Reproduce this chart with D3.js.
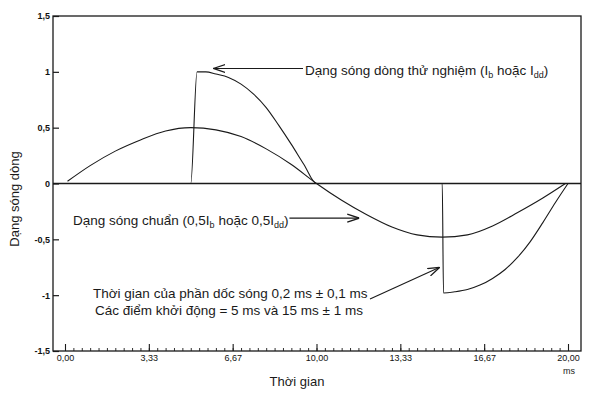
<!DOCTYPE html>
<html>
<head>
<meta charset="utf-8">
<script src="https://cdn.jsdelivr.net/npm/d3@7"></script>
<style>
  body { margin: 0; background: #fff; }
  svg { font-family: "Liberation Sans", Arial, sans-serif; }
  .tick text { fill: #111; }
</style>
</head>
<body>
<svg id="chart" width="600" height="396"></svg>
<script>
// values
const refTime = [0.1, 1, 2, 3, 4, 5, 6, 7, 8, 9, 10, 11, 12, 13, 14, 15, 16, 17, 18, 19, 19.9];
const refValues = [0.02, 0.16, 0.29, 0.39, 0.47, 0.5, 0.48, 0.42, 0.31, 0.17, 0, -0.15, -0.28, -0.39, -0.46, -0.48, -0.46, -0.38, -0.26, -0.13, 0];

const testTime = [0, 5, 5.25, 5.6, 6, 6.5, 7, 7.5, 8, 8.5, 9, 9.5, 10, 15, 15.05, 15.5, 16, 16.5, 17, 17.5, 18, 18.5, 19, 19.5, 20];
const testValues = [0, 0, 1.0, 1.0, 0.98, 0.95, 0.89, 0.8, 0.68, 0.52, 0.35, 0.17, 0, 0, -0.98, -0.97, -0.95, -0.91, -0.85, -0.77, -0.66, -0.52, -0.35, -0.17, 0];

const xTicks = [0, 10 / 3, 20 / 3, 10, 40 / 3, 50 / 3, 20];
const xTickLabels = ["0,00", "3,33", "6,67", "10,00", "13,33", "16,67", "20,00"];
const yTicks = [1.5, 1, 0.5, 0, -0.5, -1, -1.5];
const yTickLabels = ["1,5", "1", "0,5", "0", "-0,5", "-1", "-1,5"];

// ========== MAIN CODE ==========

const frame = { left: 53, right: 581, top: 16, bottom: 351 };

const x = d3.scaleLinear().domain([0, 20]).range([65, 568]);
const y = d3.scaleLinear().domain([-1.5, 1.5]).range([frame.bottom, frame.top]);

const svg = d3.select("#chart");
const ink = "#1a1a1a";
const fontSize = "13.5px";

// marker for open arrow heads
svg.append("defs").append("marker")
    .attr("id", "arrow")
    .attr("viewBox", "0 0 12 10")
    .attr("refX", 12).attr("refY", 5)
    .attr("markerWidth", 12).attr("markerHeight", 10)
    .attr("markerUnits", "userSpaceOnUse")
    .attr("orient", "auto")
    .append("path")
    .attr("d", "M0,1 L12,5 L0,9")
    .attr("fill", "none")
    .attr("stroke", ink)
    .attr("stroke-width", 1.3);

// frame
svg.append("rect")
    .attr("x", frame.left).attr("y", frame.top)
    .attr("width", frame.right - frame.left)
    .attr("height", frame.bottom - frame.top)
    .attr("fill", "none")
    .attr("stroke", ink)
    .attr("stroke-width", 1.3);

// zero line
svg.append("line")
    .attr("x1", frame.left).attr("x2", frame.right)
    .attr("y1", y(0)).attr("y2", y(0))
    .attr("stroke", ink)
    .attr("stroke-width", 1.6);

// y axis, ticks pointing inwards
const yAxis = d3.axisRight(y)
    .tickValues(yTicks)
    .tickSize(6)
    .tickFormat((d, i) => yTickLabels[i]);

const yg = svg.append("g")
    .attr("transform", "translate(" + frame.left + ",0)")
    .call(yAxis);
yg.select(".domain").remove();
yg.selectAll(".tick line").attr("stroke", ink).attr("stroke-width", 1.2);
yg.selectAll(".tick text")
    .attr("text-anchor", "end")
    .attr("x", -3)
    .style("font-size", "9px")
    .style("font-weight", "bold");

// x axis minor ticks (every 1/3 ms)
const minorAxis = d3.axisBottom(x)
    .tickValues(d3.range(0, 61).map(i => i / 3))
    .tickSize(-3)
    .tickFormat("");
const mg = svg.append("g")
    .attr("transform", "translate(0," + frame.bottom + ")")
    .call(minorAxis);
mg.select(".domain").remove();
mg.selectAll(".tick line").attr("stroke", ink).attr("stroke-width", 0.9);

// x axis major ticks
const xAxis = d3.axisBottom(x)
    .tickValues(xTicks)
    .tickSize(-7)
    .tickPadding(4)
    .tickFormat((d, i) => xTickLabels[i]);
const xg = svg.append("g")
    .attr("transform", "translate(0," + frame.bottom + ")")
    .call(xAxis);
xg.select(".domain").remove();
xg.selectAll(".tick line").attr("stroke", ink).attr("stroke-width", 1.1);
xg.selectAll(".tick text")
    .style("font-size", "9px");

// axis titles
svg.append("text")
    .attr("transform", "translate(19,199) rotate(-90)")
    .attr("text-anchor", "middle")
    .style("font-size", "13px")
    .attr("fill", ink)
    .text("Dạng sóng dòng");

svg.append("text")
    .attr("x", 297).attr("y", 386)
    .attr("text-anchor", "middle")
    .style("font-size", "13px")
    .attr("fill", ink)
    .text("Thời gian");

svg.append("text")
    .attr("x", 569).attr("y", 374)
    .attr("text-anchor", "middle")
    .style("font-size", "9px")
    .attr("fill", ink)
    .text("ms");

// curves
const line = d3.line()
    .x(d => x(d[0]))
    .y(d => y(d[1]))
    .curve(d3.curveMonotoneX);

svg.append("path")
    .datum(d3.zip(refTime, refValues))
    .attr("d", line)
    .attr("fill", "none")
    .attr("stroke", ink)
    .attr("stroke-width", 1.1);

svg.append("path")
    .datum(d3.zip(testTime, testValues))
    .attr("d", line)
    .attr("fill", "none")
    .attr("stroke", ink)
    .attr("stroke-width", 1.1);

// annotations
function label(sel, parts) {
    parts.forEach(p => {
        const t = sel.append("tspan").text(p.text);
        if (p.sub) {
            t.style("font-size", "9px").attr("dy", 3);
        } else if (p.after) {
            t.attr("dy", -3);
        }
    });
    return sel;
}

function arrow(x1, y1, x2, y2) {
    svg.append("line")
        .attr("x1", x1).attr("y1", y1)
        .attr("x2", x2).attr("y2", y2)
        .attr("stroke", ink)
        .attr("stroke-width", 1.1)
        .attr("marker-end", "url(#arrow)");
}

// test waveform
arrow(303, y(1.03), x(5.9), y(1.03));
label(svg.append("text")
    .attr("x", 305).attr("y", 75)
    .style("font-size", fontSize).attr("fill", ink), [
    { text: "Dạng sóng dòng thử nghiệm (I" },
    { text: "b", sub: true },
    { text: " hoặc I", after: true },
    { text: "dd", sub: true },
    { text: ")", after: true }
]);

// reference waveform
const refLabel = label(svg.append("text")
    .attr("x", 73).attr("y", 225)
    .style("font-size", fontSize).attr("fill", ink), [
    { text: "Dạng sóng chuẩn (0,5I" },
    { text: "b", sub: true },
    { text: " hoặc 0,5I", after: true },
    { text: "dd", sub: true },
    { text: ")", after: true }
]);
const refEnd = refLabel.node().getBBox();
arrow(refEnd.x + refEnd.width + 1, y(-0.31), x(11.7), y(-0.31));

// rise time note
svg.append("text")
    .attr("x", 93).attr("y", 298)
    .style("font-size", fontSize).attr("fill", ink)
    .text("Thời gian của phần dốc sóng 0,2 ms ± 0,1 ms");
svg.append("text")
    .attr("x", 95).attr("y", 315)
    .style("font-size", fontSize).attr("fill", ink)
    .text("Các điểm khởi động = 5 ms và 15 ms ± 1 ms");
arrow(370, 299, x(14.9), y(-0.75));
</script>
</body>
</html>
